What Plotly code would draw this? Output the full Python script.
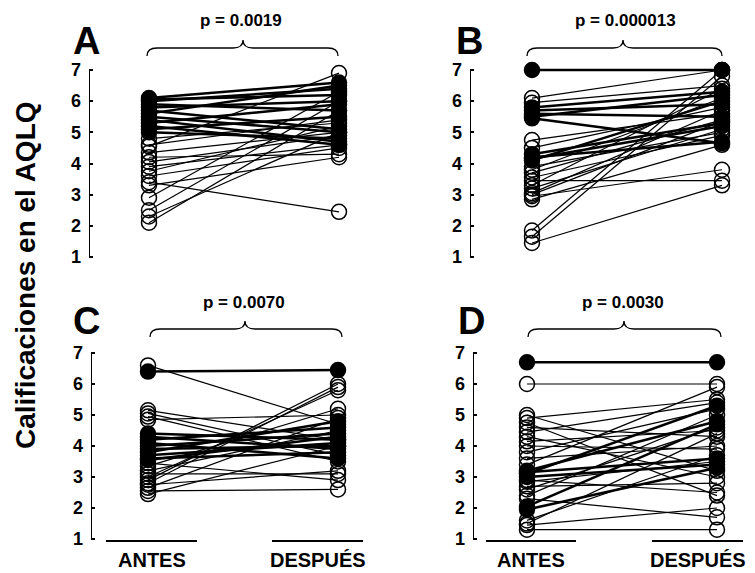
import plotly.graph_objects as go

W, H = 755, 573

# ---------------- data ----------------
categories = ["ANTES", "DESPUÉS"]
panel_letters = ["A", "B", "C", "D"]
p_values = ["p = 0.0019", "p = 0.000013", "p = 0.0070", "p = 0.0030"]
y_ticks = [1, 2, 3, 4, 5, 6, 7]
y_title = "Calificaciones en el AQLQ"

# Panel A  (grupo 1 = filled circle, 0 = open circle)
a_antes =   [6.1, 6.05, 6.0, 5.9, 5.8, 5.7, 5.6, 5.5, 5.4, 5.3, 5.2, 5.1, 5.0,
             4.8, 4.55, 4.35, 4.2, 4.05, 3.9, 3.75, 3.6, 3.4, 3.3, 2.9, 2.5, 2.3, 2.1, 4.6]
a_despues = [6.6, 6.2, 6.4, 5.7, 6.0, 5.1, 6.5, 5.0, 4.7, 5.9, 4.6, 5.5, 4.8,
             5.3, 6.9, 5.0, 4.3, 4.9, 4.6, 5.2, 4.5, 2.45, 4.2, 6.3, 6.0, 5.0, 5.7, 5.4]
a_grupo =   [1] * 13 + [0] * 15

# Panel B
b_antes =   [7.0, 5.8, 5.7, 5.6, 5.5, 5.45, 4.3, 4.2, 4.15, 4.1,
             6.1, 5.95, 4.75, 4.5, 3.9, 3.8, 3.7, 3.55, 3.45, 3.3, 3.2, 3.05, 2.95, 2.85,
             1.85, 1.65, 1.45, 3.0]
b_despues = [7.0, 6.3, 5.9, 5.5, 6.2, 4.65, 5.3, 4.7, 5.2, 6.0,
             7.0, 6.5, 5.6, 5.8, 5.0, 6.1, 5.4, 4.9, 3.45, 6.4, 5.1, 5.7, 3.8, 4.6,
             7.0, 6.8, 3.3, 5.35]
b_grupo =   [1] * 10 + [0] * 18

# Panel C
c_antes =   [6.4, 4.4, 4.3, 4.2, 4.1, 4.0, 3.9, 3.8, 3.7, 3.6, 3.55,
             6.6, 5.15, 5.05, 4.95, 4.85, 3.35, 3.2, 3.1, 3.0, 2.9, 2.8, 2.75, 2.65,
             2.55, 2.45, 3.45]
c_despues = [6.45, 4.2, 3.9, 4.6, 3.6, 4.4, 4.0, 4.8, 4.1, 3.8, 4.3,
             4.7, 4.2, 3.7, 3.5, 5.0, 5.2, 4.5, 3.1, 5.8, 6.0, 5.9, 3.2, 4.9,
             2.6, 4.0, 2.9]
c_grupo =   [1] * 11 + [0] * 16

# Panel D
d_antes =   [6.7, 3.2, 3.15, 3.1, 3.0, 2.05, 1.95,
             6.0, 5.0, 4.9, 4.75, 4.6, 4.45, 4.3, 4.15, 4.0, 3.8, 3.6, 3.4, 2.85, 2.7,
             2.6, 2.4, 2.3, 1.6, 1.45, 1.3, 1.5, 2.9]
d_despues = [6.7, 4.8, 3.6, 5.3, 3.4, 4.7, 3.3,
             6.0, 3.2, 5.5, 2.4, 4.3, 5.4, 3.0, 4.5, 3.9, 5.2, 4.0, 5.9, 3.5, 2.8,
             4.6, 5.0, 1.7, 3.7, 2.0, 1.3, 4.4, 2.5]
d_grupo =   [1] * 7 + [0] * 22

panels_data = [
    (a_antes, a_despues, a_grupo),
    (b_antes, b_despues, b_grupo),
    (c_antes, c_despues, c_grupo),
    (d_antes, d_despues, d_grupo),
]

# ---------------- geometry (pixels) ----------------
geom = [
    dict(ax=89, x0=149, x1=339, y7=70, y1=257, xl=False,
         brace=(147, 243, 338, 40, 48, 56), ptxt=(241, 21), let=(86, 41)),
    dict(ax=470, x0=532, x1=722, y7=70, y1=257, xl=False,
         brace=(527, 623, 722, 40, 48, 56), ptxt=(625, 21), let=(469, 41)),
    dict(ax=91, x0=148, x1=338, y7=353, y1=539, xl=True,
         brace=(150, 245, 342, 321, 329, 337), ptxt=(244, 302), let=(86, 321),
         segs=((106, 197), (272, 363))),
    dict(ax=473, x0=527, x1=717, y7=353, y1=539, xl=True,
         brace=(528, 624, 721, 321, 329, 337), ptxt=(623, 302), let=(471, 321),
         segs=((486, 576), (652, 743))),
]

def px(x):
    return x / W

def py(y):
    return 1 - y / H

FONT = "Arial, Liberation Sans, sans-serif"
NARROW = "Liberation Sans Narrow, Arial Narrow, Arial, Liberation Sans, sans-serif"

fig = go.Figure()
layout = dict(
    width=W, height=H,
    margin=dict(l=0, r=0, t=0, b=0),
    paper_bgcolor="white", plot_bgcolor="white",
    showlegend=False,
)
shapes = []
annotations = []

YMIN, YMAX = 0.4, 7.6

for i, (g, (antes, despues, grupo)) in enumerate(zip(geom, panels_data)):
    n = i + 1
    xa = "x" if n == 1 else f"x{n}"
    ya = "y" if n == 1 else f"y{n}"
    xkey = "xaxis" if n == 1 else f"xaxis{n}"
    ykey = "yaxis" if n == 1 else f"yaxis{n}"

    unit = g["x1"] - g["x0"]
    right = min(g["ax"] + 285, W)
    xmin = (g["ax"] - g["x0"]) / unit
    xmax = (right - g["x0"]) / unit
    ppu = (g["y1"] - g["y7"]) / 6.0
    top = g["y7"] - (YMAX - 7) * ppu
    bot = g["y1"] + (1 - YMIN) * ppu

    layout[xkey] = dict(domain=[px(g["ax"]), px(right)], range=[xmin, xmax],
                        visible=False, anchor=ya, fixedrange=True)
    layout[ykey] = dict(domain=[py(bot), py(top)], range=[YMIN, YMAX],
                        anchor=xa, tickvals=y_ticks, ticktext=[str(t) for t in y_ticks],
                        ticks="inside", ticklen=4, tickwidth=2, tickcolor="black",
                        showline=False, showgrid=False, zeroline=False,
                        ticklabelstandoff=7,
                        tickfont=dict(family=FONT, size=18, color="black", weight="bold"))

    shapes.append(dict(type="line", xref=xa, yref=ya, x0=xmin, x1=xmin, y0=1, y1=7,
                       line=dict(color="black", width=2)))

    for grp, lw in ((0, 1.2), (1, 2.5)):
        xs, ys = [], []
        for a, d, gg in zip(antes, despues, grupo):
            if gg == grp:
                xs += [0, 1, None]
                ys += [a, d, None]
        fig.add_trace(go.Scatter(x=xs, y=ys, mode="lines", xaxis=xa, yaxis=ya,
                                 line=dict(color="black", width=lw),
                                 hoverinfo="skip", cliponaxis=False))
    for grp in (0, 1):
        xs, ys = [], []
        for a, d, gg in zip(antes, despues, grupo):
            if gg == grp:
                xs += [0, 1]
                ys += [a, d]
        if grp == 0:
            marker = dict(symbol="circle-open", size=15, color="black",
                          line=dict(color="black", width=1.5))
        else:
            marker = dict(symbol="circle", size=15, color="black",
                          line=dict(color="black", width=1.5))
        fig.add_trace(go.Scatter(x=xs, y=ys, mode="markers", xaxis=xa, yaxis=ya,
                                 marker=marker, cliponaxis=False))

    bx0, bxc, bx1, byt, bym, byb = g["brace"]
    r = 10
    path = (f"M {px(bx0)},{py(byb)} Q {px(bx0)},{py(bym)} {px(bx0 + r)},{py(bym)} "
            f"L {px(bxc - r)},{py(bym)} Q {px(bxc)},{py(bym)} {px(bxc)},{py(byt)} "
            f"Q {px(bxc)},{py(bym)} {px(bxc + r)},{py(bym)} "
            f"L {px(bx1 - r)},{py(bym)} Q {px(bx1)},{py(bym)} {px(bx1)},{py(byb)}")
    shapes.append(dict(type="path", xref="paper", yref="paper", path=path,
                       line=dict(color="black", width=1.3)))

    annotations.append(dict(x=px(g["ptxt"][0]), y=py(g["ptxt"][1]), xref="paper", yref="paper",
                            text=p_values[i], showarrow=False, xanchor="center", yanchor="middle",
                            font=dict(family=NARROW, size=17, color="black", weight="bold")))
    annotations.append(dict(x=px(g["let"][0]), y=py(g["let"][1]), xref="paper", yref="paper",
                            text=panel_letters[i], showarrow=False, xanchor="center",
                            yanchor="middle",
                            font=dict(family=FONT, size=38, color="black", weight="bold")))

    if g["xl"]:
        for (s0, s1), lab in zip(g["segs"], categories):
            shapes.append(dict(type="line", xref="paper", yref="paper",
                               x0=px(s0), x1=px(s1), y0=py(541), y1=py(541),
                               line=dict(color="black", width=2)))
            annotations.append(dict(x=px((s0 + s1) / 2), y=py(560), xref="paper", yref="paper",
                                    text=lab, showarrow=False, xanchor="center",
                                    yanchor="middle",
                                    font=dict(family=FONT, size=20, color="black",
                                              weight="bold")))

annotations.append(dict(x=px(25), y=py(275), xref="paper", yref="paper", text=y_title,
                        textangle=-90, showarrow=False, xanchor="center", yanchor="middle",
                        font=dict(family=FONT, size=28, color="black", weight="bold")))

layout["shapes"] = shapes
layout["annotations"] = annotations
fig.update_layout(**layout)
fig.write_html("out.html")
